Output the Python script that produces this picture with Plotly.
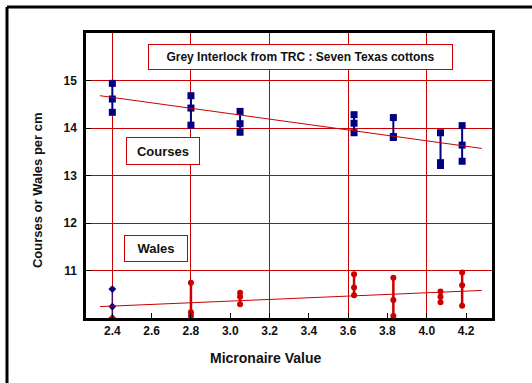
import plotly.graph_objects as go

# ---- data ----
micronaire = [2.40, 2.80, 3.05, 3.63, 3.83, 4.07, 4.18]
courses = [
    [14.94, 14.61, 14.33],
    [14.68, 14.42, 14.06],
    [14.35, 14.09, 13.91],
    [14.28, 14.10, 13.90],
    [14.22, 13.82, 13.80],
    [13.90, 13.27, 13.21],
    [14.05, 13.64, 13.30],
]
wales = [
    [10.61, 10.24, 10.00],
    [10.74, 10.12, 10.04],
    [10.53, 10.45, 10.29],
    [10.92, 10.64, 10.48],
    [10.85, 10.38, 10.04],
    [10.56, 10.45, 10.33],
    [10.96, 10.69, 10.26],
]
trend_x = [2.337, 4.28]
trend_courses = [14.68, 13.57]
trend_wales = [10.24, 10.58]
x_ticks = [2.4, 2.6, 2.8, 3.0, 3.2, 3.4, 3.6, 3.8, 4.0, 4.2]
y_ticks = [11, 12, 13, 14, 15]

NAVY = "#000080"
RED = "#cc0000"
FONT = "Liberation Sans, Arial, sans-serif"
TXT = "#111111"

fig = go.Figure()

# courses: grouped vertical bars with square markers
cx, cy = [], []
for x, vals in zip(micronaire, courses):
    cx += [x] * len(vals) + [None]
    cy += list(vals) + [None]
fig.add_trace(go.Scatter(x=cx, y=cy, mode="lines+markers",
                         line=dict(color=NAVY, width=2),
                         marker=dict(symbol="square", size=7, color=NAVY),
                         connectgaps=False, showlegend=False))

# wales
wx, wy = [], []
for x, vals in zip(micronaire[1:], wales[1:]):
    wx += [x] * len(vals) + [None]
    wy += list(vals) + [None]
fig.add_trace(go.Scatter(x=wx, y=wy, mode="lines+markers",
                         line=dict(color=RED, width=2.5),
                         marker=dict(symbol="circle", size=6, color=RED),
                         connectgaps=False, showlegend=False))
# first wales group drawn in navy (as in the reference)
fig.add_trace(go.Scatter(x=[micronaire[0]] * 3, y=wales[0], mode="lines+markers",
                         line=dict(color="#4b0a6e", width=1.5),
                         marker=dict(symbol="diamond", size=6,
                                     color=[NAVY, NAVY, RED]),
                         showlegend=False))

# trend lines
fig.add_trace(go.Scatter(x=trend_x, y=trend_courses, mode="lines",
                         line=dict(color=RED, width=1), showlegend=False))
fig.add_trace(go.Scatter(x=trend_x, y=trend_wales, mode="lines",
                         line=dict(color=RED, width=1), showlegend=False))

# invisible trace for overlaid grid axis
fig.add_trace(go.Scatter(x=[None], y=[None], xaxis="x2", showlegend=False,
                         hoverinfo="skip"))

XR = [2.266, 4.332]
ann_common = dict(xref="paper", yref="paper", showarrow=False,
                  xanchor="center", yanchor="middle")
fig.update_layout(
    width=532, height=383,
    margin=dict(l=86, r=40, t=33, b=65),
    paper_bgcolor="white", plot_bgcolor="white",
    font=dict(family=FONT, color=TXT),
    xaxis=dict(range=XR, tickvals=x_ticks, ticktext=[f"{v:.1f}" for v in x_ticks],
               ticks="inside", ticklen=5, tickwidth=1, tickcolor="black",
               showgrid=False, zeroline=False,
               showline=True, mirror=True, linecolor="black", linewidth=2.5,
               tickfont=dict(size=12, weight="bold", family=FONT, color=TXT)),
    xaxis2=dict(range=XR, overlaying="x", tick0=2.4, dtick=0.4,
                showgrid=True, gridcolor=RED, gridwidth=1,
                showticklabels=False, ticks="", zeroline=False, showline=False),
    yaxis=dict(range=[10, 16], tickvals=y_ticks,
               ticks="inside", ticklen=5, tickwidth=1, tickcolor="black",
               showgrid=True, gridcolor=RED, gridwidth=1, zeroline=False,
               showline=True, mirror=True, linecolor="black", linewidth=2.5,
               ticklabelstandoff=4,
               tickfont=dict(size=12, weight="bold", family=FONT, color=TXT)),
    shapes=[
        dict(type="line", xref="paper", yref="paper", x0=-0.1946, x1=1.2,
             y0=1.0912, y1=1.0912, line=dict(color="black", width=3)),
        dict(type="line", xref="paper", yref="paper", x0=-0.1946, x1=-0.1946,
             y0=1.0912, y1=-0.3, line=dict(color="black", width=3)),
    ],
    annotations=[
        dict(text="Grey Interlock from TRC : Seven Texas cottons",
             x=0.5283, y=0.9175, bgcolor="white",
             bordercolor=RED, borderwidth=1, borderpad=0, width=303, height=24,
             font=dict(size=12, weight="bold", family=FONT, color=TXT), **ann_common),
        dict(text="Courses", x=0.1904, y=0.587,
             bgcolor="white", bordercolor=RED, borderwidth=1,
             borderpad=0, width=72, height=26,
             font=dict(size=13, weight="bold", family=FONT, color=TXT), **ann_common),
        dict(text="Wales", x=0.1719, y=0.2446,
             bgcolor="white", bordercolor=RED, borderwidth=1,
             borderpad=0, width=62, height=25,
             font=dict(size=13, weight="bold", family=FONT, color=TXT), **ann_common),
        dict(text="Micronaire Value", x=0.4409, y=-0.1404,
             font=dict(size=14, weight="bold", family=FONT, color=TXT), **ann_common),
        dict(text="Courses or Wales per cm", x=-0.1207, y=0.449, textangle=-90,
             font=dict(size=13, weight="bold", family=FONT, color=TXT), **ann_common),
    ],
)

fig.write_html("out.html", config={"displayModeBar": False},
               post_script="document.body.style.margin='0px';")
